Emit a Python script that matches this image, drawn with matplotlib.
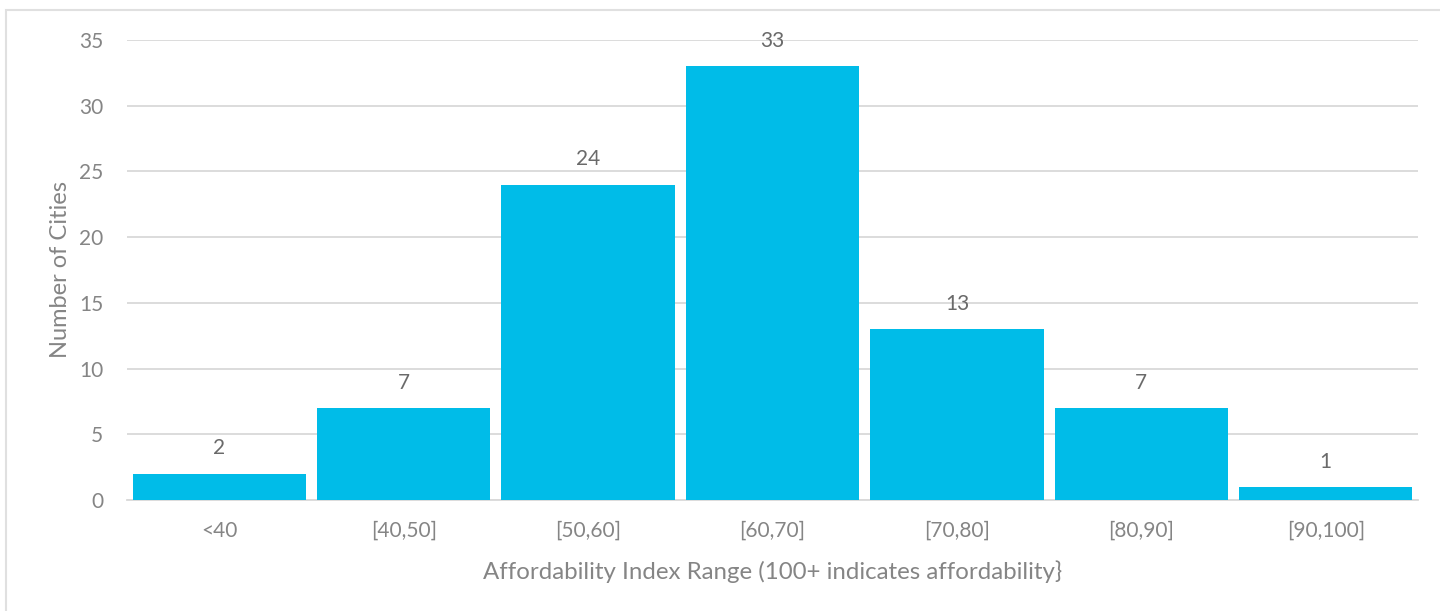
import matplotlib.pyplot as plt
from matplotlib.patches import Rectangle

# Histogram of city affordability index
categories = ['<40', '[40,50]', '[50,60]', '[60,70]', '[70,80]', '[80,90]', '[90,100]']
city_counts = [2, 7, 24, 33, 13, 7, 1]
y_ticks = [0, 5, 10, 15, 20, 25, 30, 35]

bar_color = '#00BCE8'
tick_color = '#858585'
label_color = '#6A6A6A'
grid_color = '#D9D9D9'

plt.rcParams['font.family'] = ['Lato', 'DejaVu Sans']

W, H = 1440, 611
fig = plt.figure(figsize=(W / 100, H / 100), dpi=100)
ax = fig.add_axes([127 / W, 1 - 500 / H, (1418 - 127) / W, (500 - 40) / H])

x = range(len(categories))
bars = ax.bar(x, city_counts, width=0.94, color=bar_color, zorder=3)

ax.set_xlim(-0.5, len(categories) - 0.5)
ax.set_ylim(0, 35)
ax.set_yticks(y_ticks)
ax.set_xticks(list(x))
ax.set_xticklabels(categories)
ax.tick_params(axis='both', length=0, labelsize=15, colors=tick_color)
ax.tick_params(axis='x', pad=15)
ax.tick_params(axis='y', pad=17)

ax.grid(axis='y', color=grid_color, linewidth=1.3, zorder=0)
for side in ['top', 'right', 'left']:
    ax.spines[side].set_visible(False)
ax.spines['bottom'].set_color(grid_color)
ax.spines['bottom'].set_linewidth(1.3)

for b, v in zip(bars, city_counts):
    ax.annotate(str(v), (b.get_x() + b.get_width() / 2, v), xytext=(0, 11),
                textcoords='offset points', ha='center', va='bottom',
                fontsize=15, color=label_color)

ax.set_xlabel('Affordability Index Range (100+ indicates affordability}',
              fontsize=17.3, color=tick_color, labelpad=14)
ax.set_ylabel('Number of Cities', fontsize=17, color=tick_color, labelpad=6)

# light outer frame (top and left edges visible)
fig.patches.append(Rectangle((6.5 / W, -0.1), 1.2, 1 - 10 / H + 0.1,
                             transform=fig.transFigure, fill=False,
                             edgecolor='#E0E0E0', linewidth=1.5))

fig.savefig('out.png', dpi=100)
